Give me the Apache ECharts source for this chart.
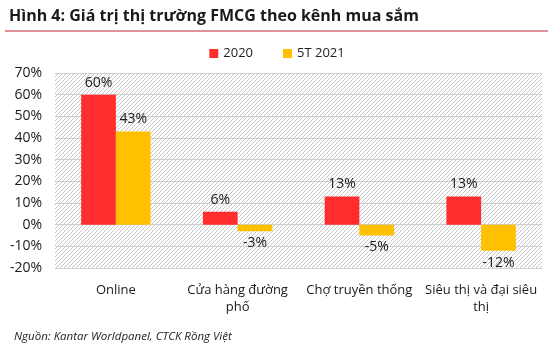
<!DOCTYPE html>
<html lang="vi">
<head>
  <meta charset="UTF-8">
  <title>FMCG theo kênh mua sắm</title>
  <style>
    html, body { margin: 0; padding: 0; background: #fff; }
    #main { width: 554px; height: 352px; }
  </style>
</head>
<body>
<div id="main"></div>
<script src="https://cdn.jsdelivr.net/npm/echarts@6/dist/echarts.min.js"></script>
<script>
  // dữ liệu
  var channels = ['Online', 'Cửa hàng đường phố', 'Chợ truyền thống', 'Siêu thị và đại siêu thị'];
  var values2020 = [60, 6, 13, 13];
  var values5T2021 = [43, -3, -5, -12];
  var yTicks = { min: -20, max: 70, step: 10 };

  var font = '"Open Sans", "Noto Sans", sans-serif';

  // nền kẻ sọc chéo: các đường x + y = c, cắt theo khung lưới
  function renderHatch(params) {
    var cs = params.coordSys;
    var x0 = cs.x, x1 = cs.x + cs.width, y0 = cs.y, y1 = cs.y + cs.height;
    var step = 4, lines = [];
    for (var c = x0 + y0 + step; c < x1 + y1; c += step) {
      var ax = Math.max(x0, c - y1), bx = Math.min(x1, c - y0);
      if (bx <= ax) continue;
      lines.push({
        type: 'line',
        shape: { x1: ax, y1: c - ax, x2: bx, y2: c - bx },
        style: { stroke: '#c8c8c8', lineWidth: 1 }
      });
    }
    return { type: 'group', children: lines };
  }

  function withLabels(arr) {
    return arr.map(function (v) {
      return { value: v, label: { position: v < 0 ? 'bottom' : 'top' } };
    });
  }

  // tên dài: xuống dòng trước từ cuối
  function wrapName(v) {
    return v.length > 17 ? v.replace(/ (\S+)$/, '\n$1') : v;
  }

  var chart = echarts.init(document.getElementById('main'));

  var labelStyle = { show: true, formatter: '{c}%', distance: 5, fontFamily: font, fontSize: 14, color: '#1a1a1a' };

  var option = {
    backgroundColor: '#fff',
    animation: false,
    title: {
      text: 'Hình 4: Giá trị thị trường FMCG theo kênh mua sắm',
      left: 4, top: 3,
      textStyle: { fontFamily: font, fontSize: 16, fontWeight: 'bold', color: '#1a1a1a' }
    },
    graphic: [
      { type: 'line', shape: { x1: 5, y1: 31, x2: 548, y2: 31 }, style: { stroke: '#c0262d', lineWidth: 1 } },
      {
        type: 'text', left: 14, top: 331,
        style: { text: 'Nguồn: Kantar Worldpanel, CTCK Rồng Việt', font: 'italic 11.5px ' + font, fill: '#222' }
      }
    ],
    legend: {
      top: 42, left: 'center',
      itemWidth: 9, itemHeight: 9, itemGap: 30,
      icon: 'rect',
      textStyle: { fontFamily: font, fontSize: 13, color: '#222' },
      data: ['2020', '5T 2021']
    },
    grid: { left: 55, right: 12, top: 73, bottom: 84 },
    xAxis: {
      type: 'category',
      data: channels,
      axisLine: { show: false },
      axisTick: { show: false },
      axisLabel: {
        interval: 0, margin: 14, formatter: wrapName,
        fontFamily: font, fontSize: 13, color: '#1a1a1a', lineHeight: 17
      }
    },
    yAxis: {
      type: 'value',
      min: yTicks.min, max: yTicks.max, interval: yTicks.step,
      axisLine: { show: false },
      axisTick: { show: false },
      splitLine: { lineStyle: { color: '#d0d0d0', width: 1 } },
      axisLabel: {
        formatter: '{value}%', margin: 13,
        fontFamily: font, fontSize: 14, color: '#1a1a1a'
      }
    },
    series: [
      {
        name: 'hatch', type: 'custom', silent: true, z: 0,
        data: [0], renderItem: renderHatch, tooltip: { show: false }
      },
      {
        name: '2020', type: 'bar',
        data: withLabels(values2020),
        barGap: 0, barCategoryGap: '43%',
        itemStyle: { color: '#ff2d2d' },
        label: labelStyle
      },
      {
        name: '5T 2021', type: 'bar',
        data: withLabels(values5T2021),
        barGap: 0, barCategoryGap: '43%',
        itemStyle: { color: '#ffc000' },
        label: labelStyle
      }
    ]
  };

  chart.setOption(option);
</script>
</body>
</html>
